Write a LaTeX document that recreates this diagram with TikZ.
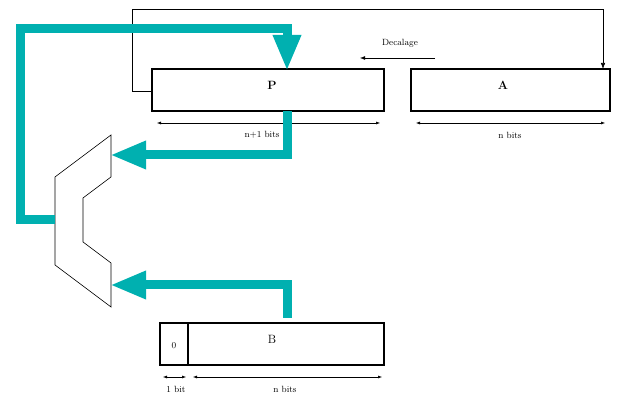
\documentclass[tikz,border=0pt]{standalone}
\usetikzlibrary{arrows.meta}
\definecolor{teal2}{RGB}{0,176,176}
\begin{document}
\begin{tikzpicture}[x=1pt,y=-1pt,
  reg/.style={draw,line width=2pt},
  bus/.style={draw=teal2,line width=9pt,-{Triangle[length=36pt,width=26pt]}},
  dim/.style={draw,line width=0.5pt,{Latex[length=4pt]}-{Latex[length=4pt]}},
  lbl/.style={font=\small,inner sep=0pt}]
\useasboundingbox (0,0) rectangle (633,406);
\draw[reg] (152,69) rectangle (384,111);
\coordinate (Pleft) at (152,91);
\draw[reg] (411,69) rectangle (610,111);
\coordinate (Atop) at (603,69);
\draw[reg] (160,323) rectangle (384,365);
\draw[line width=2pt] (188,323) -- (188,365);
\node[font=\large\bfseries] (P) at (272,85) {P};
\node[font=\large\bfseries] (A) at (503,85) {A};
\node[font=\large] (B) at (272,339) {B};
\node[lbl] (zero) at (174,346) {0};
\draw[dim] (157,123) -- (380,123);
\node[lbl] (l1) at (262,135) {n+1 bits};
\draw[dim] (416,123) -- (605,123);
\node[lbl] (l2) at (510,135) {n bits};
\draw[dim] (163,377) -- (186,377);
\node[lbl] (l3) at (176,389) {1 bit};
\draw[dim] (193,377) -- (382,377);
\node[lbl] (l4) at (285,389) {n bits};
\draw[line width=0.6pt,-{Latex[length=6pt]}] (Pleft) -- (132,91) -- (132,9) -- (603,9) -- (Atop);
\node[lbl] (dec) at (400,43) {Decalage};
\draw[line width=0.5pt,-{Latex[length=5pt]}] (435,58) -- (360,58);
\draw[line width=0.6pt] (111,135) -- (111,177) -- (83,198) -- (83,242) -- (111,263) -- (111,307) -- (55,265) -- (55,177) -- cycle;
\coordinate (mux) at (55,220);
\draw[bus] (mux) -- (20,220) -- (20,29) -- (287,29) -- (287,71);
\draw[bus] (287,111) -- (287,155) -- (110,155);
\draw[bus] (287,318) -- (287,285) -- (110,285);
\end{tikzpicture}
\end{document}
